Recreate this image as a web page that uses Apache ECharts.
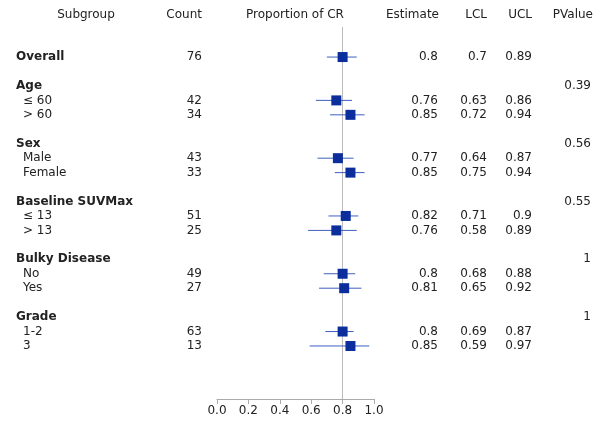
<!DOCTYPE html>
<html>
<head>
<meta charset="utf-8">
<script src="https://cdn.jsdelivr.net/npm/echarts@6/dist/echarts.min.js"></script>
<style>
html,body{margin:0;padding:0;background:#fff;}
#chart{width:595px;height:426px;}
</style>
</head>
<body>
<div id="chart"></div>
<script>
const subgroups = ['Overall', '', 'Age', '≤ 60', '> 60', '', 'Sex', 'Male', 'Female', '', 'Baseline SUVMax', '≤ 13', '> 13', '', 'Bulky Disease', 'No', 'Yes', '', 'Grade', '1-2', '3'];
const isGroup = [1, 0, 1, 0, 0, 0, 1, 0, 0, 0, 1, 0, 0, 0, 1, 0, 0, 0, 1, 0, 0];
const counts = [76, null, null, 42, 34, null, null, 43, 33, null, null, 51, 25, null, null, 49, 27, null, null, 63, 13];
const estimates = [0.8, null, null, 0.76, 0.85, null, null, 0.77, 0.85, null, null, 0.82, 0.76, null, null, 0.8, 0.81, null, null, 0.8, 0.85];
const lcl = [0.7, null, null, 0.63, 0.72, null, null, 0.64, 0.75, null, null, 0.71, 0.58, null, null, 0.68, 0.65, null, null, 0.69, 0.59];
const ucl = [0.89, null, null, 0.86, 0.94, null, null, 0.87, 0.94, null, null, 0.9, 0.89, null, null, 0.88, 0.92, null, null, 0.87, 0.97];
const pvalues = [null, null, 0.39, null, null, null, 0.56, null, null, null, 0.55, null, null, null, 1, null, null, null, 1, null, null];
const refValue = 0.8;
const headers = ['Subgroup', 'Count', 'Proportion of CR', 'Estimate', 'LCL', 'UCL', 'PValue'];

const FONT = 'DejaVu Sans';
const TXT = '#222';
const chart = echarts.init(document.getElementById('chart'), null, {renderer: 'canvas'});

const pointData = [];
const ciData = [];
const textData = [];
subgroups.forEach((s, i) => {
  if (estimates[i] != null) {
    pointData.push([estimates[i], i]);
    ciData.push([lcl[i], ucl[i], i]);
  }
  textData.push([0, i]);
});

function fmt(v) { return v == null ? '' : String(v); }

const colDefs = [
  {x: 16, align: 'left', get: i => subgroups[i]},
  {x: 202, align: 'right', get: i => fmt(counts[i])},
  {x: 438, align: 'right', get: i => fmt(estimates[i])},
  {x: 487, align: 'right', get: i => fmt(lcl[i])},
  {x: 532, align: 'right', get: i => fmt(ucl[i])},
  {x: 591, align: 'right', get: i => fmt(pvalues[i])}
];

const headerPos = [
  {x: 86, align: 'center'},
  {x: 202, align: 'right'},
  {x: 295, align: 'center'},
  {x: 439, align: 'right'},
  {x: 487, align: 'right'},
  {x: 532, align: 'right'},
  {x: 593, align: 'right'}
];

const option = {
  backgroundColor: '#fff',
  animation: false,
  grid: {left: 217, right: 221, top: 27, bottom: 27, containLabel: false},
  xAxis: {
    type: 'value', min: 0, max: 1, interval: 0.2,
    axisLine: {show: true, onZero: false, lineStyle: {color: '#aaa', width: 1}},
    axisTick: {show: true, length: 5, lineStyle: {color: '#aaa'}},
    axisLabel: {color: TXT, fontFamily: FONT, fontSize: 12, margin: 6, formatter: v => v.toFixed(1)},
    splitLine: {show: false}
  },
  yAxis: {
    type: 'value', inverse: true, min: -2.08, max: 23.67,
    show: false, splitLine: {show: false}
  },
  graphic: headers.map((h, k) => ({
    type: 'text',
    x: headerPos[k].x, y: 15,
    style: {text: h, fill: TXT, font: '12px "' + FONT + '"', textAlign: headerPos[k].align, textVerticalAlign: 'middle'}
  })),
  series: [
    {
      type: 'line',
      name: 'ref',
      data: [],
      z: 1,
      markLine: {
        silent: true, symbol: 'none', label: {show: false}, z: 1,
        lineStyle: {color: '#bbb', width: 1, type: 'solid'},
        data: [{xAxis: refValue}]
      }
    },
    {
      type: 'custom',
      name: 'ci',
      data: ciData,
      z: 3,
      renderItem: function (params, api) {
        const a = api.coord([api.value(0), api.value(2)]);
        const b = api.coord([api.value(1), api.value(2)]);
        return {type: 'line', shape: {x1: a[0], y1: a[1], x2: b[0], y2: b[1]}, style: {stroke: '#3f5fbf', lineWidth: 1}};
      }
    },
    {
      type: 'scatter',
      name: 'est',
      data: pointData,
      symbol: 'rect',
      symbolSize: [10, 10],
      z: 4,
      itemStyle: {color: '#0b2e9c', opacity: 1}
    },
    {
      type: 'custom',
      name: 'text',
      data: textData,
      clip: false,
      z: 5,
      renderItem: function (params, api) {
        const i = api.value(1);
        const y = api.coord([0, i])[1];
        const children = [];
        colDefs.forEach((c, k) => {
          let t = c.get(i);
          if (!t) return;
          let x = c.x;
          if (k === 0 && !isGroup[i]) x = 23;
          children.push({
            type: 'text', x: x, y: y,
            style: {text: t, fill: TXT, font: (k === 0 && isGroup[i] ? 'bold ' : '') + '12px "' + FONT + '"', textAlign: c.align, textVerticalAlign: 'middle'}
          });
        });
        return {type: 'group', children: children};
      }
    }
  ]
};
chart.setOption(option);
</script>
</body>
</html>
